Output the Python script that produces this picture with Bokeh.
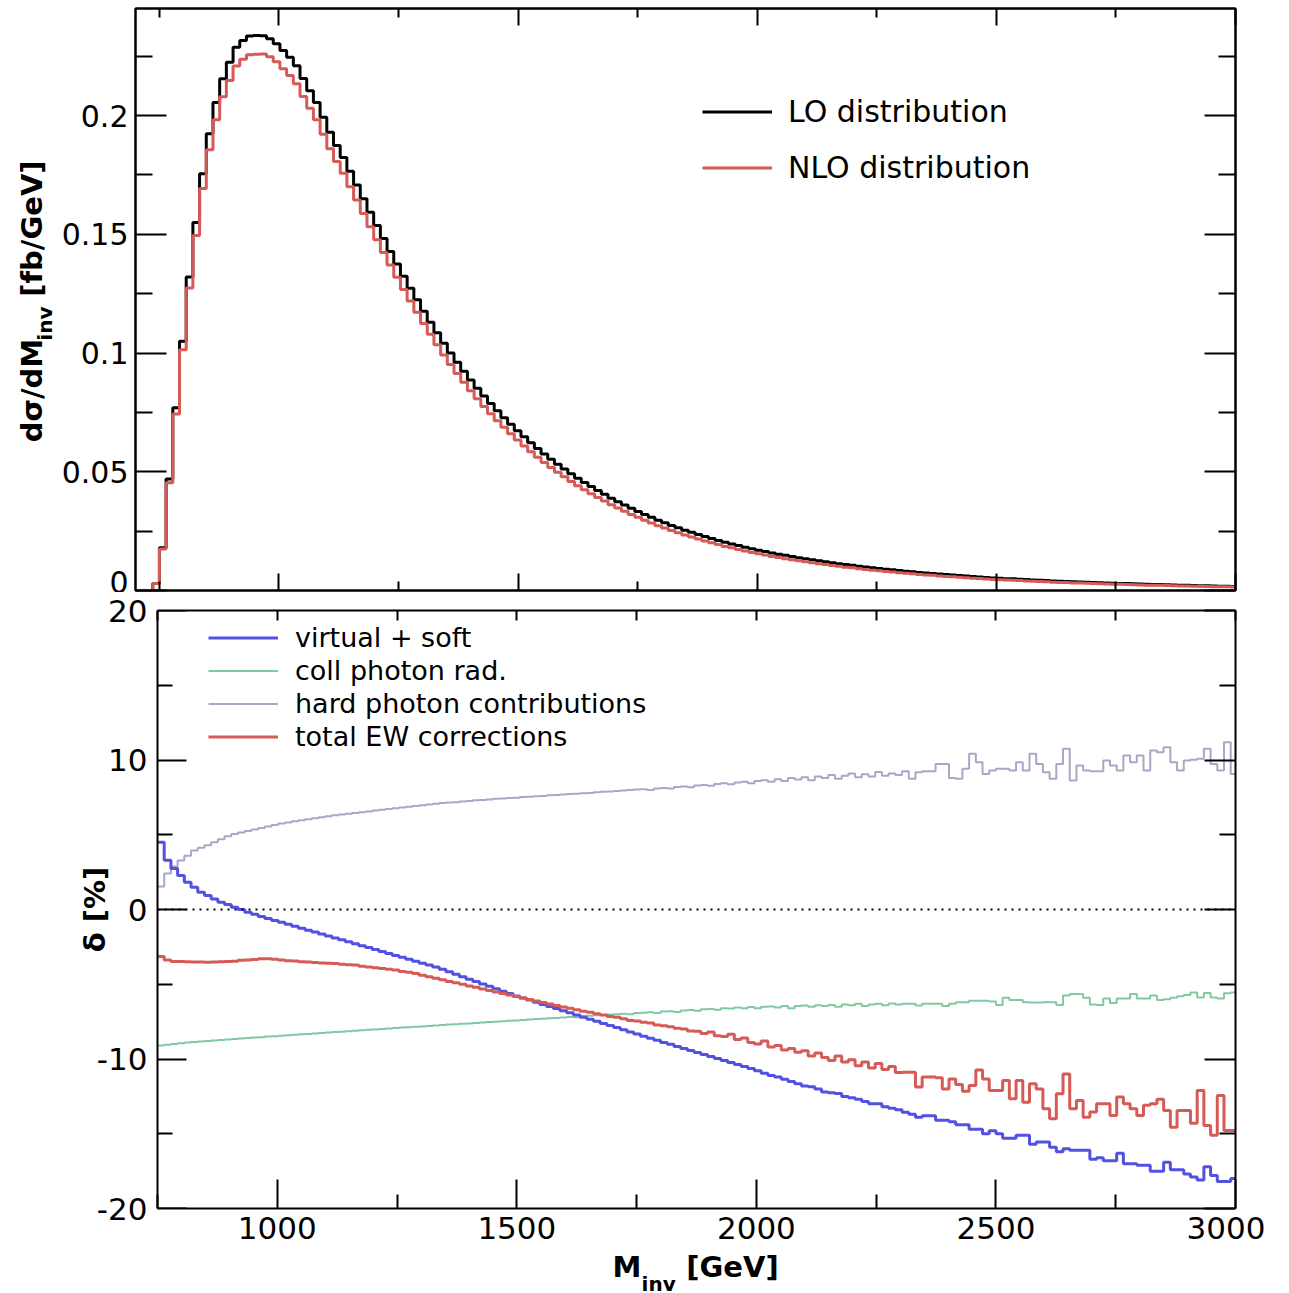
import numpy as np
from bokeh.plotting import figure
from bokeh.models import Range1d, LinearAxis, FixedTicker, Legend, LegendItem
from bokeh.layouts import column
from bokeh.embed import file_html
from bokeh.resources import INLINE

# ---------------- data ----------------
BIN_START = 750.0
BIN_WIDTH = 14.0
PRE_BIN_START = 736.0
TOP_X_START = 700.0
X_END = 3000.0

lo_pre = 0.003
nlo_pre = 0.0029

lo = [0.018, 0.047, 0.077, 0.105, 0.132, 0.155, 0.1755, 0.1924, 0.2055, 0.2155,
      0.2225, 0.2288, 0.2316, 0.2335, 0.2337, 0.2336, 0.2324, 0.2303, 0.2274, 0.2246,
      0.2210, 0.2156, 0.2105, 0.2055, 0.1993, 0.1930, 0.1874, 0.1824, 0.1766, 0.1708,
      0.1650, 0.1593, 0.1537, 0.1482, 0.1428, 0.1375, 0.1323, 0.1273, 0.1224, 0.1176,
      0.1130, 0.1085, 0.1041, 0.1000, 0.0961, 0.0923, 0.0887, 0.0852, 0.0819, 0.0787,
      0.0757, 0.0728, 0.0700, 0.0673, 0.0647, 0.0622, 0.0598, 0.0575, 0.0553, 0.0532,
      0.0512, 0.0492, 0.0473, 0.0455, 0.0438, 0.0421, 0.0405, 0.0389, 0.0374, 0.0360,
      0.0346, 0.0333, 0.0320, 0.0308, 0.0296, 0.0285, 0.0274, 0.0264, 0.0254, 0.0245,
      0.0236, 0.0227, 0.0219, 0.0211, 0.0203, 0.0196, 0.0189, 0.0182, 0.0176, 0.0170,
      0.0164, 0.0158, 0.0153, 0.0148, 0.0143, 0.0138, 0.0134, 0.0129, 0.0125, 0.0121,
      0.0117, 0.0113, 0.0109, 0.0106, 0.0102, 0.0099, 0.0096, 0.0093, 0.0090, 0.0087,
      0.0084, 0.0081, 0.0079, 0.0076, 0.0074, 0.0072, 0.0069, 0.0067, 0.0065, 0.0063,
      0.0061, 0.0059, 0.0057, 0.0055, 0.0053, 0.0052, 0.0050, 0.0049, 0.0047, 0.0046,
      0.0044, 0.0043, 0.0042, 0.0040, 0.0039, 0.0038, 0.0037, 0.0036, 0.0035, 0.0034,
      0.0033, 0.0032, 0.0031, 0.0030, 0.0029, 0.0028, 0.0027, 0.0026, 0.0025, 0.0025,
      0.0024, 0.0023, 0.0022, 0.0022, 0.0021, 0.0020, 0.0020, 0.0019, 0.0018, 0.0018,
      0.0017]

nlo = [0.01743, 0.04542, 0.07432, 0.10135, 0.12738, 0.14954, 0.16932, 0.18561, 0.19827, 0.20796,
       0.21476, 0.22088, 0.22373, 0.22563, 0.22587, 0.22589, 0.22473, 0.22265, 0.21971, 0.21692,
       0.21338, 0.20805, 0.20309, 0.19820, 0.19217, 0.18605, 0.18062, 0.17572, 0.17007, 0.16445,
       0.15873, 0.15317, 0.14771, 0.14235, 0.13709, 0.13193, 0.12681, 0.12195, 0.11716, 0.11243,
       0.10792, 0.10351, 0.09921, 0.09518, 0.09139, 0.08769, 0.08416, 0.08077, 0.07754, 0.07443,
       0.07152, 0.06871, 0.06600, 0.06338, 0.06087, 0.05846, 0.05614, 0.05392, 0.05181, 0.04978,
       0.04786, 0.04595, 0.04413, 0.04241, 0.04079, 0.03917, 0.03764, 0.03612, 0.03471, 0.03337,
       0.03203, 0.03082, 0.02958, 0.02846, 0.02731, 0.02628, 0.02525, 0.02430, 0.02337, 0.02251,
       0.02168, 0.02082, 0.02010, 0.01932, 0.01857, 0.01796, 0.01726, 0.01663, 0.01603, 0.01547,
       0.01496, 0.01435, 0.01391, 0.01341, 0.01297, 0.01248, 0.01213, 0.01164, 0.01130, 0.01090,
       0.01052, 0.01019, 0.00979, 0.00953, 0.00913, 0.00889, 0.00858, 0.00834, 0.00804, 0.00779,
       0.00748, 0.00722, 0.00704, 0.00670, 0.00657, 0.00639, 0.00612, 0.00590, 0.00576, 0.00556,
       0.00536, 0.00521, 0.00509, 0.00488, 0.00466, 0.00457, 0.00443, 0.00428, 0.00416, 0.00401,
       0.00389, 0.00378, 0.00364, 0.00344, 0.00342, 0.00338, 0.00321, 0.00314, 0.00301, 0.00294,
       0.00287, 0.00278, 0.00267, 0.00262, 0.00252, 0.00243, 0.00233, 0.00226, 0.00218, 0.00218,
       0.00208, 0.00197, 0.00190, 0.00190, 0.00180, 0.00176, 0.00171, 0.00161, 0.00158, 0.00153,
       0.00145]

virtual_soft = [4.50, 3.30, 2.75, 2.27, 1.83, 1.49, 1.16, 0.93, 0.71, 0.49,
                0.33, 0.15, 0.00, -0.18, -0.32, -0.46, -0.60, -0.73, -0.86, -0.99,
                -1.12, -1.25, -1.38, -1.51, -1.64, -1.77, -1.90, -2.03, -2.16, -2.29,
                -2.42, -2.55, -2.68, -2.81, -2.94, -3.07, -3.20, -3.33, -3.46, -3.60,
                -3.72, -3.85, -4.00, -4.17, -4.33, -4.50, -4.66, -4.82, -4.98, -5.14,
                -5.30, -5.46, -5.62, -5.78, -5.92, -6.06, -6.20, -6.35, -6.49, -6.63,
                -6.77, -6.91, -7.05, -7.20, -7.34, -7.48, -7.62, -7.76, -7.90, -8.05,
                -8.19, -8.33, -8.47, -8.61, -8.75, -8.89, -9.02, -9.16, -9.30, -9.43,
                -9.56, -9.70, -9.83, -9.96, -10.10, -10.23, -10.36, -10.50, -10.63, -10.78,
                -10.95, -11.10, -11.20, -11.35, -11.50, -11.65, -11.80, -11.85, -12.00, -12.20,
                -12.25, -12.30, -12.50, -12.60, -12.70, -12.85, -13.00, -13.00, -13.20, -13.30,
                -13.40, -13.56, -13.70, -13.90, -13.80, -13.80, -14.10, -14.10, -14.20, -14.40,
                -14.40, -14.70, -14.70, -15.00, -14.80, -15.00, -15.30, -15.30, -15.10, -15.10,
                -15.70, -15.55, -15.55, -15.90, -16.20, -16.00, -16.10, -16.10, -16.10, -16.70,
                -16.60, -16.80, -16.80, -16.30, -17.00, -17.00, -17.10, -17.10, -17.50, -17.50,
                -16.90, -17.40, -17.40, -17.70, -17.90, -18.10, -17.20, -17.80, -18.20, -18.20,
                -18.00]

coll_photon = [-9.10, -9.05, -9.00, -8.95, -8.90, -8.87, -8.83, -8.80, -8.77, -8.73,
               -8.70, -8.67, -8.63, -8.60, -8.57, -8.54, -8.50, -8.47, -8.44, -8.41,
               -8.38, -8.35, -8.32, -8.29, -8.26, -8.23, -8.20, -8.17, -8.14, -8.11,
               -8.08, -8.05, -8.02, -7.99, -7.96, -7.93, -7.90, -7.87, -7.84, -7.82,
               -7.79, -7.76, -7.73, -7.70, -7.67, -7.64, -7.62, -7.59, -7.56, -7.53,
               -7.50, -7.47, -7.44, -7.42, -7.39, -7.36, -7.33, -7.30, -7.27, -7.25,
               -7.22, -7.19, -7.20, -7.13, -7.10, -7.08, -7.05, -7.02, -7.00, -6.97,
               -7.00, -6.92, -6.90, -6.87, -6.92, -6.82, -6.80, -6.85, -6.75, -6.72,
               -6.78, -6.68, -6.65, -6.70, -6.60, -6.62, -6.55, -6.60, -6.52, -6.60,
               -6.50, -6.48, -6.55, -6.45, -6.60, -6.45, -6.42, -6.50, -6.40, -6.45,
               -6.38, -6.50, -6.35, -6.40, -6.30, -6.45, -6.35, -6.30, -6.40, -6.28,
               -6.35, -6.30, -6.30, -6.42, -6.30, -6.30, -6.30, -6.45, -6.30, -6.20,
               -6.20, -6.10, -6.10, -6.10, -6.15, -6.38, -5.90, -6.05, -6.05, -6.20,
               -6.22, -6.22, -6.20, -6.20, -6.38, -5.75, -5.65, -5.65, -5.90, -6.35,
               -6.38, -5.95, -6.25, -5.95, -5.95, -5.65, -5.95, -5.95, -5.75, -6.05,
               -6.00, -5.90, -5.80, -5.72, -5.55, -5.88, -5.58, -5.88, -5.95, -5.60,
               -5.55]

hard_photon = [1.54, 2.40, 2.87, 3.28, 3.60, 3.95, 4.13, 4.30, 4.50, 4.70,
               4.90, 5.05, 5.15, 5.25, 5.35, 5.45, 5.55, 5.65, 5.75, 5.82,
               5.90, 5.97, 6.03, 6.10, 6.17, 6.23, 6.30, 6.35, 6.40, 6.45,
               6.50, 6.56, 6.62, 6.67, 6.72, 6.77, 6.82, 6.87, 6.93, 6.98,
               7.03, 7.08, 7.12, 7.15, 7.18, 7.22, 7.25, 7.30, 7.32, 7.36,
               7.40, 7.42, 7.46, 7.48, 7.52, 7.55, 7.58, 7.60, 7.64, 7.66,
               7.70, 7.72, 7.75, 7.78, 7.80, 7.85, 7.88, 7.90, 7.93, 7.96,
               8.00, 8.02, 8.05, 8.00, 8.10, 8.13, 8.10, 8.20, 8.22, 8.18,
               8.30, 8.32, 8.28, 8.40, 8.45, 8.38, 8.50, 8.55, 8.45, 8.60,
               8.65, 8.55, 8.72, 8.60, 8.80, 8.70, 8.85, 8.65, 8.90, 8.80,
               9.00, 8.75, 8.95, 9.10, 8.85, 9.05, 8.90, 9.20, 8.95, 9.10,
               9.00, 9.25, 8.74, 9.18, 9.25, 9.25, 9.74, 9.74, 8.80, 8.74,
               9.41, 10.41, 9.85, 9.07, 9.30, 9.41, 9.41, 9.30, 9.85, 9.30,
               10.41, 9.74, 9.18, 8.74, 9.74, 10.75, 8.63, 9.63, 9.30, 9.25,
               9.25, 9.97, 9.63, 9.30, 10.30, 9.85, 10.30, 9.30, 10.64, 10.52,
               10.86, 9.85, 9.30, 9.97, 10.01, 10.08, 10.75, 9.74, 9.30, 11.19,
               9.07]

total_ew = [-3.14, -3.37, -3.48, -3.48, -3.50, -3.52, -3.52, -3.53, -3.52, -3.50,
            -3.48, -3.46, -3.40, -3.37, -3.35, -3.30, -3.30, -3.32, -3.38, -3.42,
            -3.45, -3.50, -3.52, -3.55, -3.58, -3.60, -3.62, -3.66, -3.70, -3.72,
            -3.80, -3.85, -3.90, -3.95, -4.00, -4.05, -4.15, -4.20, -4.28, -4.40,
            -4.50, -4.60, -4.70, -4.82, -4.90, -5.00, -5.12, -5.20, -5.32, -5.42,
            -5.52, -5.62, -5.72, -5.82, -5.92, -6.02, -6.12, -6.22, -6.32, -6.42,
            -6.52, -6.60, -6.70, -6.80, -6.88, -6.97, -7.05, -7.15, -7.20, -7.30,
            -7.42, -7.45, -7.55, -7.60, -7.72, -7.78, -7.85, -7.95, -8.00, -8.12,
            -8.15, -8.30, -8.20, -8.45, -8.50, -8.35, -8.70, -8.60, -8.90, -9.00,
            -8.80, -9.20, -9.10, -9.40, -9.30, -9.55, -9.45, -9.80, -9.60, -9.90,
            -10.10, -9.80, -10.20, -10.05, -10.45, -10.20, -10.60, -10.30, -10.70, -10.50,
            -10.90, -10.88, -10.88, -11.88, -11.20, -11.20, -11.25, -12.00, -11.33, -11.70,
            -12.15, -11.77, -10.73, -11.33, -12.10, -12.10, -11.44, -12.66, -11.44, -12.89,
            -11.66, -12.00, -13.33, -14.00, -12.33, -11.00, -13.33, -12.78, -13.90, -13.55,
            -13.00, -13.00, -13.78, -12.55, -13.00, -13.33, -13.78, -13.10, -13.00, -12.70,
            -13.44, -14.56, -13.44, -13.44, -14.30, -12.10, -14.45, -15.10, -12.44, -14.78,
            -14.78]

x_major = [1000, 1500, 2000, 2500, 3000]
x_minor = [750, 1250, 1750, 2250, 2750]
top_y_major = [0.0, 0.05, 0.1, 0.15, 0.2]
top_y_labels = ["0", "0.05", "0.1", "0.15", "0.2"]
top_y_minor = [0.025, 0.075, 0.125, 0.175, 0.225]
bot_y_major = [-20.0, -10.0, 0.0, 10.0, 20.0]
bot_y_labels = ["-20", "-10", "0", "10", "20"]
bot_y_minor = [-15.0, -5.0, 5.0, 15.0]

top_legend = ["LO distribution", "NLO distribution"]
bot_legend = ["virtual + soft", "coll photon rad.", "hard photon contributions", "total EW corrections"]

# axis titles, split into main text and subscript pieces
top_ytitle_main = ["dσ/dM", "[fb/GeV]"]
top_ytitle_sub = ["inv"]
bot_ytitle = "δ [%]"
bot_xtitle_main = ["M", "[GeV]"]
bot_xtitle_sub = ["inv"]

# ---------------- styling / layout ----------------
FONT = "DejaVu Sans"
C_LO = "#000000"
C_RED = "#d65a56"
C_BLUE = "#5252e2"
C_GREEN = "#82c9a2"
C_LAV = "#aaa6c9"

# positions (data coordinates) at which the title pieces are centred
TOP_YT_MAIN_POS = [0.0842, 0.1524]
TOP_YT_SUB_POS = [0.1124]
BOT_XT_MAIN_POS = [1730.0, 1950.0]
BOT_XT_SUB_POS = [1796.0]

n = len(lo)
edges = BIN_START + BIN_WIDTH * np.arange(n + 1)


def style_axis(ax, ticks, minor, major_in, minor_in, labels=None, size="30px", standoff=8):
    ax.ticker = FixedTicker(ticks=ticks, minor_ticks=minor)
    ax.axis_line_width = 2
    ax.axis_line_color = "black"
    ax.major_tick_line_width = 2
    ax.minor_tick_line_width = 2
    ax.major_tick_line_color = "black"
    ax.minor_tick_line_color = "black"
    ax.major_tick_in = major_in
    ax.major_tick_out = 0
    ax.minor_tick_in = minor_in
    ax.minor_tick_out = 0
    ax.major_label_text_font = FONT
    ax.major_label_text_color = "black"
    ax.axis_label = None
    if labels is None:
        ax.major_label_overrides = {t: "" for t in ticks}
        ax.major_label_text_font_size = "0px"
        ax.major_label_standoff = 0
    else:
        ax.major_label_overrides = dict(zip(ticks, labels))
        ax.major_label_text_font_size = size
        ax.major_label_standoff = standoff


def text_axis(positions, texts, size, standoff, orientation, bold=True):
    ax = LinearAxis(ticker=FixedTicker(ticks=positions, minor_ticks=[]))
    ax.axis_line_color = None
    ax.major_tick_line_color = None
    ax.minor_tick_line_color = None
    ax.major_tick_in = 0
    ax.major_tick_out = 0
    ax.minor_tick_in = 0
    ax.minor_tick_out = 0
    ax.major_label_overrides = dict(zip(positions, texts))
    ax.major_label_text_font = FONT
    ax.major_label_text_font_style = "bold" if bold else "normal"
    ax.major_label_text_font_size = size
    ax.major_label_text_color = "black"
    ax.major_label_standoff = standoff
    ax.major_label_orientation = orientation
    ax.axis_label = None
    return ax


# ---------------- top panel ----------------
p1 = figure(output_backend="svg", toolbar_location=None,
            frame_width=1100, frame_height=582,
            x_range=Range1d(TOP_X_START, X_END), y_range=Range1d(0, 0.2451),
            min_border_left=135, min_border_right=30, min_border_top=8, min_border_bottom=2)
p1.grid.visible = False
p1.outline_line_color = "black"
p1.outline_line_width = 2

top_x = [TOP_X_START, PRE_BIN_START] + list(edges)
lo_y = [0.0, lo_pre] + lo + [lo[-1]]
nlo_y = [0.0, nlo_pre] + nlo + [nlo[-1]]
r_lo = p1.step(x=top_x, y=lo_y, mode="after", line_color=C_LO, line_width=3)
r_nlo = p1.step(x=top_x, y=nlo_y, mode="after", line_color=C_RED, line_width=3)

style_axis(p1.xaxis[0], x_major, x_minor, 17, 9)
style_axis(p1.yaxis[0], top_y_major, top_y_minor, 31, 17, top_y_labels, "30px", 7)
ax_t = LinearAxis()
style_axis(ax_t, x_major, x_minor, 17, 9)
p1.add_layout(ax_t, "above")
ax_r = LinearAxis()
style_axis(ax_r, top_y_major, top_y_minor, 31, 17)
p1.add_layout(ax_r, "right")
p1.add_layout(text_axis(TOP_YT_SUB_POS, top_ytitle_sub, "20px", 1, "vertical"), "left")
p1.add_layout(text_axis(TOP_YT_MAIN_POS, top_ytitle_main, "29px", -19, "vertical"), "left")

leg1 = Legend(items=[LegendItem(label=top_legend[0], renderers=[r_lo]),
                     LegendItem(label=top_legend[1], renderers=[r_nlo])],
              location=(567, 405), label_text_font=FONT, label_text_font_size="30px",
              label_text_color="black",
              glyph_width=70, glyph_height=35, label_height=35, spacing=21,
              padding=0, margin=0, label_standoff=16,
              background_fill_alpha=0, border_line_alpha=0)
p1.add_layout(leg1)

# ---------------- bottom panel ----------------
# frame shares its left edge with the top panel; the box starts at BIN_START
px_per_unit = 1078.0 / (X_END - BIN_START)
x2_start = BIN_START - 22.0 / px_per_unit
p2 = figure(output_backend="svg", toolbar_location=None,
            frame_width=1100, frame_height=598,
            x_range=Range1d(x2_start, X_END), y_range=Range1d(-20, 20),
            min_border_left=135, min_border_right=30, min_border_top=18, min_border_bottom=40)
p2.grid.visible = False
p2.outline_line_color = None

bx = list(edges)
r_hard = p2.step(x=bx, y=hard_photon + [hard_photon[-1]], mode="after", line_color=C_LAV, line_width=2)
r_coll = p2.step(x=bx, y=coll_photon + [coll_photon[-1]], mode="after", line_color=C_GREEN, line_width=2)
r_virt = p2.step(x=bx, y=virtual_soft + [virtual_soft[-1]], mode="after", line_color=C_BLUE, line_width=3)
r_tot = p2.step(x=bx, y=total_ew + [total_ew[-1]], mode="after", line_color=C_RED, line_width=3)
p2.line(x=[BIN_START, X_END], y=[0, 0], line_color="black", line_width=2, line_dash="2 5")

xa = p2.xaxis[0]
style_axis(xa, x_major, x_minor, 29, 14, [str(v) for v in x_major], "31px", 8)
xa.bounds = (BIN_START, X_END)
# left box edge with ticks, placed at the first bin edge
ya = p2.yaxis[0]
style_axis(ya, bot_y_major, bot_y_minor, 29, 15)
ya.fixed_location = BIN_START
# tick labels and title of the left axis
ya_lab = text_axis(bot_y_major, bot_y_labels, "31px", -12, "horizontal", bold=False)
ya_lab.axis_label = bot_ytitle
ya_lab.axis_label_text_font = FONT
ya_lab.axis_label_text_font_style = "bold"
ya_lab.axis_label_text_font_size = "29px"
ya_lab.axis_label_text_color = "black"
ya_lab.axis_label_standoff = -18
p2.add_layout(ya_lab, "left")
ax_t2 = LinearAxis()
style_axis(ax_t2, x_major, x_minor, 10, 10)
ax_t2.bounds = (BIN_START, X_END)
p2.add_layout(ax_t2, "above")
ax_r2 = LinearAxis()
style_axis(ax_r2, bot_y_major, bot_y_minor, 31, 16)
p2.add_layout(ax_r2, "right")
p2.add_layout(text_axis(BOT_XT_MAIN_POS, bot_xtitle_main, "29px", 8, "horizontal"), "below")
p2.add_layout(text_axis(BOT_XT_SUB_POS, bot_xtitle_sub, "20px", -15, "horizontal"), "below")

leg2 = Legend(items=[LegendItem(label=bot_legend[0], renderers=[r_virt]),
                     LegendItem(label=bot_legend[1], renderers=[r_coll]),
                     LegendItem(label=bot_legend[2], renderers=[r_hard]),
                     LegendItem(label=bot_legend[3], renderers=[r_tot])],
              location=(73, 456), label_text_font=FONT, label_text_font_size="27px",
              label_text_color="black",
              glyph_width=70, glyph_height=31, label_height=31, spacing=2,
              padding=0, margin=0, label_standoff=17,
              background_fill_alpha=0, border_line_alpha=0)
p2.add_layout(leg2)

layout = column(p1, p2, spacing=0)
open("out.html", "w").write(file_html(layout, INLINE, title="EW corrections"))
